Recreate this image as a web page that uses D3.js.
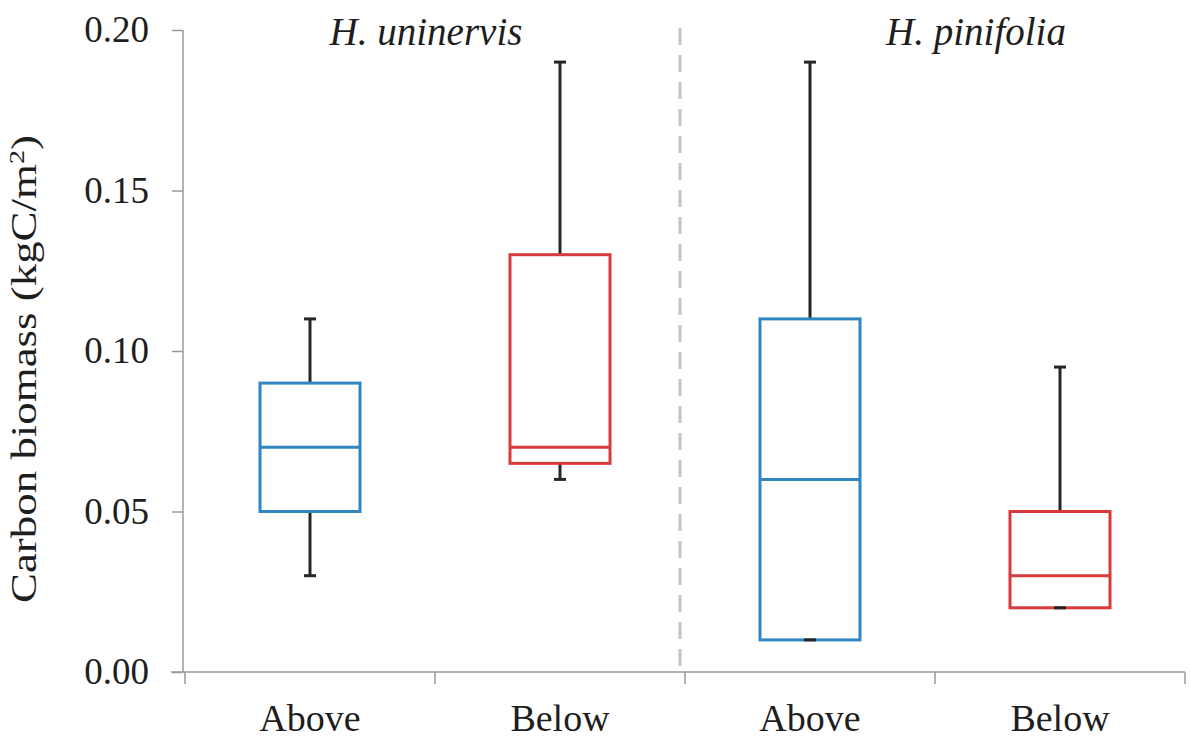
<!DOCTYPE html>
<html>
<head>
<meta charset="utf-8">
<script src="https://cdn.jsdelivr.net/npm/d3@7"></script>
<style>
  html, body { margin: 0; padding: 0; background: #fff; }
  svg { display: block; }
  text { font-family: "Liberation Serif", "Times New Roman", serif; fill: #1e1e1e; }
</style>
</head>
<body>
<svg id="chart" width="1190" height="738"></svg>
<script>
// Carbon biomass per seagrass species and tissue fraction
const species = ["H. uninervis", "H. pinifolia"];
const categories = ["Above", "Below", "Above", "Below"];
const whiskerLow = [0.03, 0.06, 0.01, 0.02];
const q1 = [0.05, 0.065, 0.01, 0.02];
const median = [0.07, 0.07, 0.06, 0.03];
const q3 = [0.09, 0.13, 0.11, 0.05];
const whiskerHigh = [0.11, 0.19, 0.19, 0.095];
const yTicks = [0, 0.05, 0.10, 0.15, 0.20];

const colorFor = { Above: "#2f86c0", Below: "#d8393b" };

const svg = d3.select("#chart");
const margin = { left: 185, right: 5, top: 30, bottom: 66 };
const W = 1190, H = 738;

const x = d3.scaleBand()
  .domain(d3.range(categories.length))
  .range([margin.left, W - margin.right])
  .paddingInner(0).paddingOuter(0);

const y = d3.scaleLinear()
  .domain([0, 0.2])
  .range([H - margin.bottom, margin.top]);

// Y axis
const yAxis = d3.axisLeft(y)
  .tickValues(yTicks)
  .tickFormat(d3.format(".2f"))
  .tickSize(11)
  .tickPadding(23);
const gy = svg.append("g")
  .attr("transform", `translate(${margin.left - 2},0)`)
  .call(yAxis);
gy.select(".domain").attr("stroke", "#9a9a9a").attr("stroke-width", 1.5)
  .attr("d", `M0,${y(0.2)}V${y(0)}`);
gy.selectAll(".tick line").attr("stroke", "#9a9a9a").attr("stroke-width", 1.5);
gy.selectAll(".tick text").style("font-size", "37px").attr("fill", "#1e1e1e");

// X axis with ticks on group boundaries
const boundaries = d3.range(categories.length + 1).map(i => margin.left + i * x.bandwidth());
svg.append("line")
  .attr("x1", margin.left - 14).attr("x2", W - margin.right)
  .attr("y1", y(0)).attr("y2", y(0))
  .attr("stroke", "#9a9a9a").attr("stroke-width", 1.5);
svg.selectAll(".xtick").data(boundaries).enter().append("line")
  .attr("class", "xtick")
  .attr("x1", d => d).attr("x2", d => d)
  .attr("y1", y(0)).attr("y2", y(0) + 12)
  .attr("stroke", "#9a9a9a").attr("stroke-width", 1.5);
svg.selectAll(".xlabel").data(categories).enter().append("text")
  .attr("class", "xlabel")
  .attr("x", (d, i) => x(i) + x.bandwidth() / 2)
  .attr("y", 731)
  .attr("text-anchor", "middle")
  .style("font-size", "38px")
  .text(d => d);

// Y axis title
svg.append("text")
  .attr("transform", `translate(36,${369}) rotate(-90)`)
  .attr("text-anchor", "middle")
  .attr("textLength", 468)
  .attr("lengthAdjust", "spacingAndGlyphs")
  .style("font-size", "35px")
  .html('Carbon biomass (kgC/m<tspan dy="-12" style="font-size:22px">2</tspan><tspan dy="12">)</tspan>');

// Dashed separator between species
svg.append("line")
  .attr("x1", x(2) - 5).attr("x2", x(2) - 5)
  .attr("y1", y(0.2) - 2).attr("y2", y(0))
  .attr("stroke", "#c4c4c4").attr("stroke-width", 3)
  .attr("stroke-dasharray", "17,10");

// Species titles
const titleX = [426, 976];
svg.selectAll(".sp").data(species).enter().append("text")
  .attr("class", "sp")
  .attr("x", (d, i) => titleX[i])
  .attr("y", 45)
  .attr("text-anchor", "middle")
  .style("font-size", "39px")
  .style("font-style", "italic")
  .text(d => d);

// Boxes
const boxW = 100, capW = 12;
const g = svg.selectAll(".box").data(categories).enter().append("g").attr("class", "box");
const cx = i => x(i) + x.bandwidth() / 2;

g.each(function(cat, i) {
  const sel = d3.select(this);
  const c = cx(i);
  const col = colorFor[cat];
  const wc = "#262626";
  // upper whisker
  sel.append("line").attr("x1", c).attr("x2", c)
    .attr("y1", y(q3[i])).attr("y2", y(whiskerHigh[i]))
    .attr("stroke", wc).attr("stroke-width", 3);
  sel.append("line").attr("x1", c - capW / 2).attr("x2", c + capW / 2)
    .attr("y1", y(whiskerHigh[i])).attr("y2", y(whiskerHigh[i]))
    .attr("stroke", wc).attr("stroke-width", 3);
  // lower whisker
  sel.append("line").attr("x1", c).attr("x2", c)
    .attr("y1", y(q1[i])).attr("y2", y(whiskerLow[i]))
    .attr("stroke", wc).attr("stroke-width", 3);
  // box
  sel.append("rect")
    .attr("x", c - boxW / 2).attr("width", boxW)
    .attr("y", y(q3[i])).attr("height", y(q1[i]) - y(q3[i]))
    .attr("fill", "none").attr("stroke", col).attr("stroke-width", 3);
  // median
  sel.append("line").attr("x1", c - boxW / 2).attr("x2", c + boxW / 2)
    .attr("y1", y(median[i])).attr("y2", y(median[i]))
    .attr("stroke", col).attr("stroke-width", 3);
  // lower cap drawn on top
  sel.append("line").attr("x1", c - capW / 2).attr("x2", c + capW / 2)
    .attr("y1", y(whiskerLow[i])).attr("y2", y(whiskerLow[i]))
    .attr("stroke", wc).attr("stroke-width", 3);
});
</script>
</body>
</html>
